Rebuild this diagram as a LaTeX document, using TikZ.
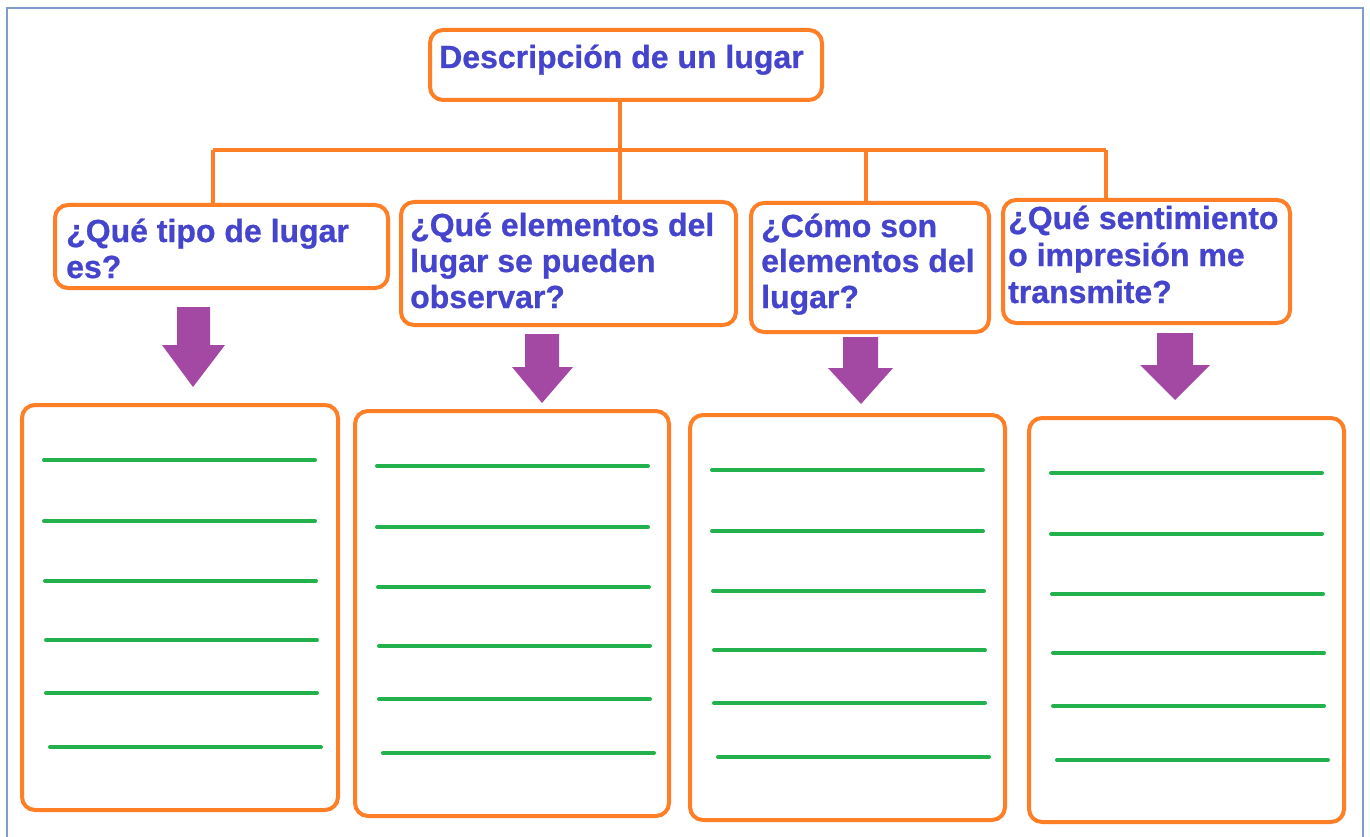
\documentclass[tikz,border=0pt]{standalone}
\usepackage{fontspec}
\setmainfont{Liberation Sans}
\newfontfamily\qfont[BoldFeatures={FakeBold=0.7}]{Liberation Sans}
\usetikzlibrary{calc}
\definecolor{qorange}{RGB}{255,127,39}
\definecolor{qblue}{RGB}{68,68,204}
\definecolor{qgreen}{RGB}{34,177,76}
\definecolor{qpurple}{RGB}{163,73,164}
\definecolor{qframe}{RGB}{127,157,201}
\begin{document}
\begin{tikzpicture}[x=1pt,y=-1pt,
  qbox/.style={draw=qorange, line width=4pt, rounded corners=13pt, inner sep=0pt, anchor=north west},
  qtext/.style={anchor=base west, inner sep=0pt, text=qblue, font=\qfont\fontsize{32}{37}\selectfont\bfseries},
  conn/.style={draw=qorange, line width=4pt},
  gline/.style={draw=qgreen, line width=4pt, line cap=round},
  parrow/.style={fill=qpurple},
  frame/.style={draw=qframe, line width=2pt}]
\useasboundingbox (0,0) rectangle (1370,837);
\fill[white] (0,0) rectangle (1370,837);
\draw[frame] (7,850) -- (7,8) -- (1363,8) -- (1363,850);

% boxes
\node[qbox, minimum width=392pt, minimum height=70pt] (top) at (428,28) {};
\node[qbox, minimum width=333pt, minimum height=83pt] (b1) at (53,203) {};
\node[qbox, minimum width=335pt, minimum height=123pt] (b2) at (399,200) {};
\node[qbox, minimum width=238pt, minimum height=129pt] (b3) at (749,201) {};
\node[qbox, minimum width=287pt, minimum height=123pt] (b4) at (1001,198) {};

% texts
\node[qtext] (ttop) at (439,68) {Descripción de un lugar};
\node[qtext] (t1a) at (66,242) {¿Qué tipo de lugar};
\node[qtext] (t1b) at (66,278) {es?};
\node[qtext] (t2a) at (410,236) {¿Qué elementos del};
\node[qtext] (t2b) at (410,272) {lugar se pueden};
\node[qtext] (t2c) at (410,308) {observar?};
\node[qtext] (t3a) at (761,237) {¿Cómo son};
\node[qtext] (t3b) at (761,272) {elementos del};
\node[qtext] (t3c) at (761,308) {lugar?};
\node[qtext] (t4a) at (1008,229) {¿Qué sentimiento};
\node[qtext] (t4b) at (1008,266) {o impresión me};
\node[qtext] (t4c) at (1008,303) {transmite?};

% connectors
\coordinate (d1) at (213,150);
\coordinate (d2) at (620,150);
\coordinate (d3) at (866,150);
\coordinate (d4) at (1106,150);
\draw[conn] (d1) -- (d4);
\draw[conn] (d2 |- top.south) -- (d2) -- (d2 |- b2.north);
\draw[conn] (d1) -- (d1 |- b1.north);
\draw[conn] (d3) -- (d3 |- b3.north);
\draw[conn] (d4) -- (d4 |- b4.north);

% purple arrows
\fill[parrow] (177,307) -- (210,307) -- (210,345) -- (225,345) -- (193,387) -- (162,345) -- (177,345) -- cycle;
\fill[parrow] (525,334) -- (559,334) -- (559,367) -- (573,367) -- (542,403) -- (512,367) -- (525,367) -- cycle;
\fill[parrow] (843,337) -- (878,337) -- (878,368) -- (893,368) -- (861,404) -- (828,368) -- (843,368) -- cycle;
\fill[parrow] (1157,333) -- (1193,333) -- (1193,365) -- (1210,365) -- (1175,400) -- (1140,365) -- (1157,365) -- cycle;

% answer boxes
\node[qbox, minimum width=316pt, minimum height=405pt] (a1) at (20,403) {};
\node[qbox, minimum width=314pt, minimum height=405pt] (a2) at (353,409) {};
\node[qbox, minimum width=315pt, minimum height=405pt] (a3) at (688,413) {};
\node[qbox, minimum width=315pt, minimum height=404pt] (a4) at (1027,416) {};

% green writing lines
\foreach \b in {a1,a2,a3,a4}{
  \foreach \dy/\s in {57/0,118/0,178/1,237/2,290/2,344/6}{
    \draw[gline] ($(\b.north west)+(24+\s,\dy)$) -- ++(271,0);
  }
}
\end{tikzpicture}
\end{document}
